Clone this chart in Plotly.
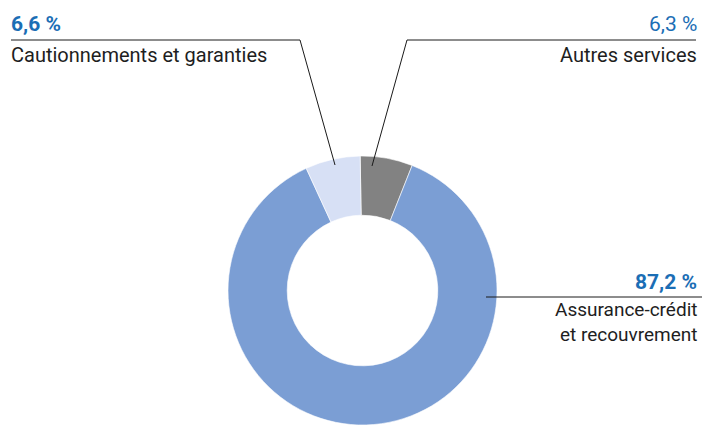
import plotly.graph_objects as go

# Breakdown of revenue by business line (clockwise from 12 o'clock)
segments = ["Autres services", "Assurance-crédit et recouvrement", "Cautionnements et garanties"]
shares = [6.3, 87.2, 6.6]
share_labels = ["6,3 %", "87,2 %", "6,6 %"]
slice_colors = ["#828282", "#7B9ED4", "#D7E0F5"]

W, H = 705, 425
BLUE = "#1B6EB5"
INK = "#1E1E1E"
FONT = "Roboto, sans-serif"


def px(x, y):
    """Pixel position (from top-left) to paper coordinates."""
    return x / W, 1 - y / H


fig = go.Figure(
    go.Pie(
        labels=segments,
        values=shares,
        sort=False,
        direction="clockwise",
        rotation=-1,
        hole=0.56,
        marker=dict(colors=slice_colors, line=dict(color="white", width=0.6)),
        textinfo="none",
        hoverinfo="label+percent",
        domain=dict(x=[227.5 / W, 497.5 / W], y=[0, 269 / H]),
        showlegend=False,
    )
)

# leader lines
leaders = [
    [(11, 40), (300, 40), (335, 165)],
    [(696, 40), (407, 40), (372, 166)],
    [(486, 297), (702, 297)],
]
shapes = []
for pts in leaders:
    for (x0, y0), (x1, y1) in zip(pts[:-1], pts[1:]):
        a0, b0 = px(x0, y0)
        a1, b1 = px(x1, y1)
        shapes.append(dict(type="line", xref="paper", yref="paper",
                           x0=a0, y0=b0, x1=a1, y1=b1,
                           line=dict(color="#1a1a1a", width=1)))

annotations = []


def label(text, x, y, anchor, size=20, color=INK, bold=False):
    ax, ay = px(x, y)
    if bold:
        text = "<b>" + text + "</b>"
    annotations.append(dict(text=text, x=ax, y=ay, xref="paper", yref="paper",
                            xanchor=anchor, yanchor="middle", showarrow=False,
                            align=anchor, borderpad=0,
                            font=dict(family=FONT, size=size, color=color)))


label(share_labels[2], 10, 24, "left", size=21, color=BLUE, bold=True)
label(segments[2], 10, 55, "left")
label(share_labels[0], 698, 24, "right", size=21, color=BLUE)
label(segments[0], 698, 55, "right")
label(share_labels[1], 698, 282, "right", size=21, color=BLUE, bold=True)
label("Assurance-crédit<br>et recouvrement", 698, 322, "right", size=19)

fig.update_layout(
    width=W, height=H,
    margin=dict(l=0, r=0, t=0, b=0),
    paper_bgcolor="white", plot_bgcolor="white",
    shapes=shapes, annotations=annotations,
)

fig.write_html("out.html")
